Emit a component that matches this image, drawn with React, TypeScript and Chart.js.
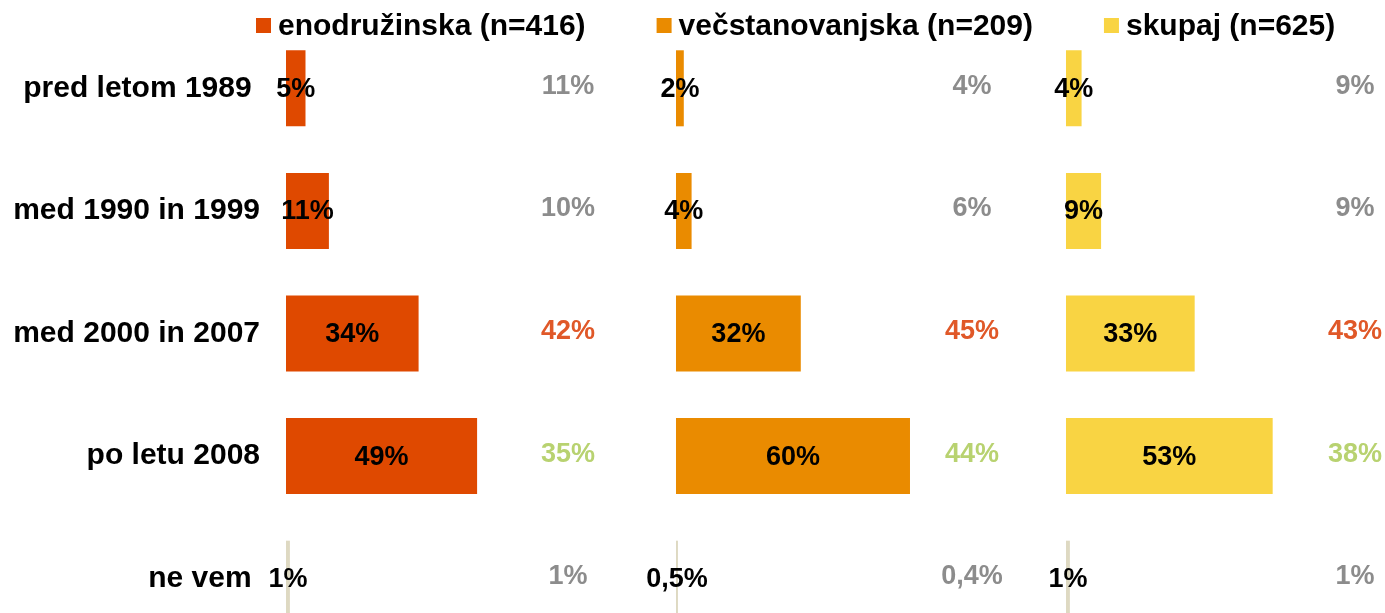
import { useEffect, useRef } from "react";
import { Chart, registerables } from "chart.js";

Chart.register(...registerables);

// ---- data ----
const categories = ["pred letom 1989 ", "med 1990 in 1999", "med 2000 in 2007", "po letu 2008", "ne vem "];
const seriesNames = ["enodružinska (n=416)", "večstanovanjska (n=209)", "skupaj (n=625)"];
const enodruzinska = [5, 11, 34, 49, 1];
const vecstanovanjska = [2, 4, 32, 60, 0.5];
const skupaj = [4, 9, 33, 53, 1];
// comparison values shown to the right of each panel
const enodruzinskaPrimerjava = [11, 10, 42, 35, 1];
const vecstanovanjskaPrimerjava = [4, 6, 45, 44, 0.4];
const skupajPrimerjava = [9, 9, 43, 38, 1];

// ---- styles ----
const FONT = '"Liberation Sans", Arial, sans-serif';
const seriesColors = ["rgb(223,73,0)", "rgb(234,139,0)", "rgb(249,212,67)"];
const neVemColor = "rgb(222,217,194)";
const compareColors = ["rgb(140,140,140)", "rgb(140,140,140)", "rgb(224,88,40)", "rgb(184,210,112)", "rgb(140,140,140)"];
const PANEL_SPAN = 100;
const comparePos = [72.3, 75.9, 74.1];

const allValues = [enodruzinska, vecstanovanjska, skupaj];
const allCompare = [enodruzinskaPrimerjava, vecstanovanjskaPrimerjava, skupajPrimerjava];

const fmt = (v: number) => String(v).replace(".", ",") + "%";

const labelsPlugin = {
  id: "panelLabels",
  afterDatasetsDraw(chart: any) {
    const ctx = chart.ctx;
    const xs = chart.scales.x;
    ctx.save();
    ctx.font = `bold 27px ${FONT}`;
    ctx.textAlign = "center";
    ctx.textBaseline = "middle";
    allValues.forEach((vals, i) => {
      const meta = chart.getDatasetMeta(i);
      meta.data.forEach((bar: any, j: number) => {
        const cx = (bar.x + bar.base) / 2;
        ctx.fillStyle = "#000";
        ctx.fillText(fmt(vals[j]), cx, bar.y + 1);
        ctx.fillStyle = compareColors[j];
        ctx.fillText(fmt(allCompare[i][j]), xs.getPixelForValue(i * PANEL_SPAN + comparePos[i]), bar.y - 2);
      });
    });
    ctx.restore();
  },
  afterDraw(chart: any) {
    const ctx = chart.ctx;
    ctx.save();
    ctx.font = `bold 30px ${FONT}`;
    ctx.textAlign = "left";
    ctx.textBaseline = "middle";
    let x = 256;
    chart.data.datasets.forEach((ds: any, i: number) => {
      ctx.fillStyle = seriesColors[i];
      ctx.fillRect(x, 18, 15, 15);
      ctx.fillStyle = "#000";
      ctx.fillText(ds.label, x + 22, 27);
      x += 22 + ctx.measureText(ds.label).width + 71;
    });
    ctx.restore();
  },
};

export default function App() {
  const ref = useRef<HTMLCanvasElement>(null);
  useEffect(() => {
    if (!ref.current) return;
    const datasets = allValues.map((vals, i) => ({
      label: seriesNames[i],
      data: vals.map((v) => [i * PANEL_SPAN, i * PANEL_SPAN + v]),
      backgroundColor: vals.map((_, j) => (j === categories.length - 1 ? neVemColor : seriesColors[i])),
      borderWidth: 0,
      grouped: false,
      barPercentage: 0.62,
      categoryPercentage: 1,
    }));
    const chart = new Chart(ref.current, {
      type: "bar",
      data: { labels: categories, datasets: datasets as any },
      options: {
        indexAxis: "y",
        responsive: false,
        animation: false,
        layout: { padding: { top: 27, bottom: 20, left: 0, right: 0 } },
        plugins: { legend: { display: false }, tooltip: { enabled: false }, title: { display: false } },
        scales: {
          x: { display: false, min: 0, max: 281.8 },
          y: {
            grid: { display: false, drawTicks: false },
            border: { display: false },
            ticks: { color: "#000", font: { family: FONT, size: 30, weight: "bold" }, padding: 26 },
            afterFit: (axis: any) => {
              axis.width = 286;
              axis.paddingTop = 0;
              axis.paddingBottom = 0;
            },
          },
        },
      } as any,
      plugins: [labelsPlugin],
    });
    return () => chart.destroy();
  }, []);
  return (
    <div style={{ position: "fixed", left: 0, top: 0, width: 1385, height: 613, overflow: "hidden", background: "#fff" }}>
      <canvas ref={ref} width={1385} height={660} style={{ display: "block" }} />
    </div>
  );
}
